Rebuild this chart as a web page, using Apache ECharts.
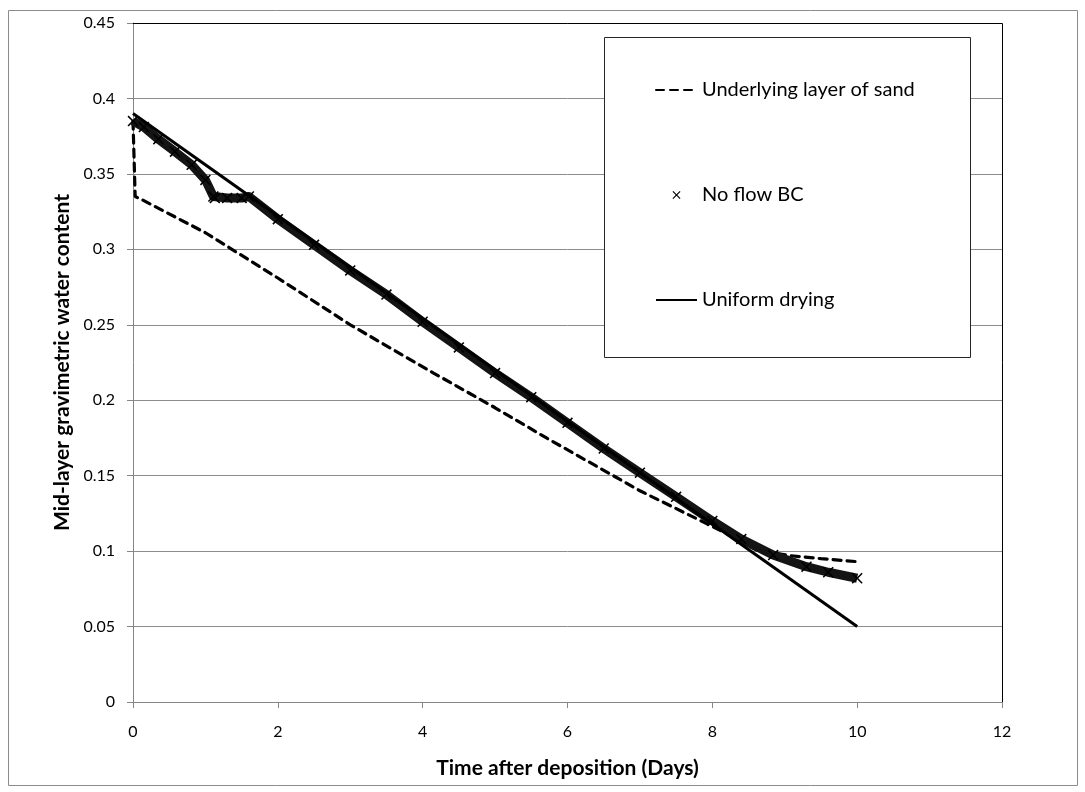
<!DOCTYPE html>
<html>
<head>
<meta charset="utf-8">
<script src="https://cdn.jsdelivr.net/npm/echarts@6/dist/echarts.min.js"></script>
<style>
  html, body { margin: 0; padding: 0; background: #fff; }
  #chart { width: 1085px; height: 792px; }
</style>
</head>
<body>
<div id="chart"></div>
<script>
// ---- Data ----
const seriesNames = ['Underlying layer of sand', 'No flow BC', 'Uniform drying'];

const sandDays  = [0, 0.03, 0.12, 1.0, 2.0, 3.0, 4.15, 5.0, 5.71, 7.0, 8.1, 8.6, 9.07, 9.5, 10];
const sandWater = [0.385, 0.335, 0.333, 0.311, 0.281, 0.250, 0.218, 0.195, 0.175, 0.140, 0.114, 0.101, 0.097, 0.095, 0.093];

const noFlowDays  = [0, 0.15, 0.35, 0.58, 0.81, 1.0, 1.11, 1.13, 1.3, 1.5, 1.6, 2.0, 2.5, 3.0, 3.5, 4.0, 4.5, 5.0, 5.5, 6.0, 6.5, 7.0, 7.5, 8.0, 8.4, 8.84, 9.3, 9.6, 10];
const noFlowWater = [0.385, 0.381, 0.373, 0.3647, 0.356, 0.346, 0.335, 0.334, 0.334, 0.334, 0.335, 0.320, 0.303, 0.286, 0.270, 0.252, 0.235, 0.218, 0.202, 0.185, 0.168, 0.152, 0.136, 0.120, 0.108, 0.0974, 0.0897, 0.086, 0.082];

const uniformDays  = [0, 10];
const uniformWater = [0.39, 0.05];

const xTickLabels = ['0', '2', '4', '6', '8', '10', '12'];
const yTickLabels = ['0', '0.05', '0.1', '0.15', '0.2', '0.25', '0.3', '0.35', '0.4', '0.45'];

const xTitle = 'Time after deposition (Days)';
const yTitle = 'Mid-layer gravimetric water content';

// ---- Build ----
function zip(a, b) { return a.map((v, i) => [v, b[i]]); }
const FONT = 'Lato, Carlito, Calibri, "Open Sans", sans-serif';
const XMARK = 'path://M0,1 L1,0 L5,4 L9,0 L10,1 L6,5 L10,9 L9,10 L5,6 L1,10 L0,9 L4,5 Z';

const xMin = Number(xTickLabels[0]), xMax = Number(xTickLabels[xTickLabels.length - 1]);
const yMin = Number(yTickLabels[0]), yMax = Number(yTickLabels[yTickLabels.length - 1]);

const chart = echarts.init(document.getElementById('chart'), null, { renderer: 'canvas' });

const option = {
  backgroundColor: '#fff',
  animation: false,
  grid: { left: 133, top: 23, right: 83, bottom: 90, show: false },
  xAxis: {
    type: 'value',
    min: xMin, max: xMax, interval: 2,
    name: xTitle,
    nameLocation: 'middle',
    nameGap: 56,
    nameTextStyle: { fontFamily: FONT, fontSize: 21, fontWeight: 'bold', color: '#000' },
    axisLine: { show: true, lineStyle: { color: '#868686', width: 1 } },
    axisTick: { show: true, inside: false, length: 6, lineStyle: { color: '#868686' } },
    axisLabel: { fontFamily: FONT, fontSize: 16, color: '#000', margin: 22 },
    splitLine: { show: false }
  },
  yAxis: {
    type: 'value',
    min: yMin, max: yMax, interval: 0.05,
    name: yTitle,
    nameLocation: 'middle',
    nameGap: 60,
    nameRotate: 90,
    nameTextStyle: { fontFamily: FONT, fontSize: 21, fontWeight: 'bold', color: '#000' },
    axisLine: { show: true, lineStyle: { color: '#868686', width: 1 } },
    axisTick: { show: true, inside: false, length: 6, lineStyle: { color: '#868686' } },
    axisLabel: {
      fontFamily: FONT, fontSize: 16, color: '#000', margin: 18,
      formatter: function (v) {
        const idx = Math.round((v - yMin) / 0.05);
        return yTickLabels[idx] !== undefined ? yTickLabels[idx] : String(v);
      }
    },
    splitLine: { show: true, lineStyle: { color: '#8c8c8c', width: 1 } }
  },
  legend: {
    orient: 'vertical',
    left: 655,
    top: 80,
    padding: 0,
    itemWidth: 41,
    itemHeight: 8,
    itemGap: 85,
    textStyle: { fontFamily: FONT, fontSize: 20, color: '#000', lineHeight: 20 },
    data: [
      { name: seriesNames[0], itemStyle: { opacity: 0 } },
      { name: seriesNames[1], icon: XMARK },
      { name: seriesNames[2], itemStyle: { opacity: 0 } }
    ],
    z: 10
  },
  graphic: {
    elements: [
      { type: 'rect', z: 5, silent: true,
        shape: { x: 604.5, y: 37.5, width: 366, height: 320 },
        style: { fill: '#fff', stroke: '#262626', lineWidth: 1 } },
      { type: 'polyline', z: 6, silent: true,
        shape: { points: [[133, 23.5], [1002.5, 23.5], [1002.5, 702]] },
        style: { fill: null, stroke: '#000', lineWidth: 1 } },
      { type: 'rect', z: 6, silent: true,
        shape: { x: 8.5, y: 10.5, width: 1069, height: 775 },
        style: { fill: null, stroke: '#8c8c8c', lineWidth: 1 } }
    ]
  },
  series: [
    {
      name: seriesNames[0],
      type: 'line',
      data: zip(sandDays, sandWater),
      symbol: 'none',
      lineStyle: { color: '#000', width: 3.2, type: [8, 6], cap: 'round' },
      itemStyle: { color: '#000' },
      z: 2
    },
    {
      name: seriesNames[1],
      type: 'line',
      data: zip(noFlowDays, noFlowWater),
      symbol: XMARK,
      symbolSize: 11,
      showSymbol: true,
      showAllSymbol: true,
      lineStyle: { color: '#141414', width: 9, join: 'round' },
      itemStyle: { color: '#000' },
      z: 3
    },
    {
      name: seriesNames[2],
      type: 'line',
      data: zip(uniformDays, uniformWater),
      symbol: 'none',
      lineStyle: { color: '#000', width: 3 },
      itemStyle: { color: '#000' },
      z: 4
    }
  ]
};

chart.setOption(option);
</script>
</body>
</html>
